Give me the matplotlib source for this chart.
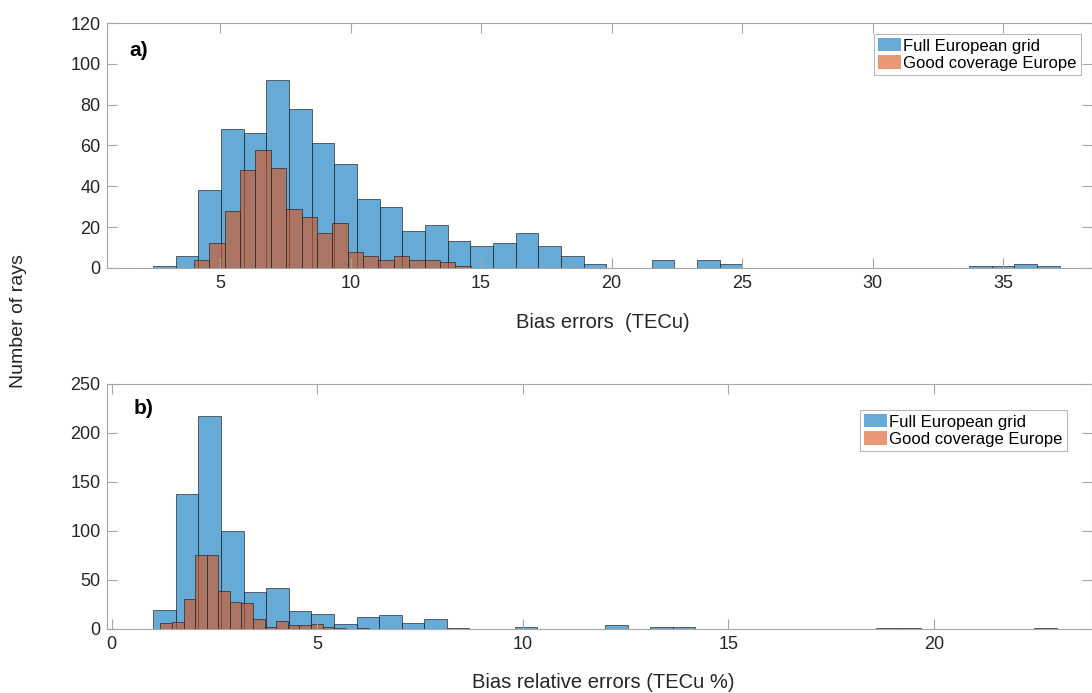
import matplotlib
matplotlib.use("Agg")
import matplotlib.pyplot as plt
import numpy as np

plt.rcParams['font.family'] = ['Liberation Sans', 'DejaVu Sans']

# panel a) bias errors (TECu)
a_full_start, a_full_width = 2.43, 0.8685
a_full_counts = [1, 6, 38, 68, 66, 92, 78, 61, 51, 34, 30, 18, 21, 13, 11, 12,
                 17, 11, 6, 2, 0, 0, 4, 0, 4, 2, 0, 0, 0, 0, 0, 0, 0, 0, 0, 0,
                 1, 1, 2, 1]
a_good_start, a_good_width = 3.99, 0.59
a_good_counts = [4, 12, 28, 48, 58, 49, 29, 25, 17, 22, 8, 6, 4, 6, 4, 4, 3, 1]

# panel b) bias relative errors (TECu %)
b_full_start, b_full_width = 1.01, 0.5495
b_full_counts = [19, 138, 217, 100, 38, 42, 18, 15, 5, 12, 14, 6, 10, 1, 0, 0,
                 2, 0, 0, 0, 4, 0, 2, 2, 0, 0, 0, 0, 0, 0, 0, 0, 1, 1, 0, 0,
                 0, 0, 0, 1]
b_good_start, b_good_width = 1.183, 0.282
b_good_counts = [6, 7, 31, 75, 75, 39, 28, 26, 10, 2, 8, 4, 4, 5, 2, 1, 0, 1]

labels = ['Full European grid', 'Good coverage Europe']
blue = (0.0, 0.447, 0.741, 0.6)
red = (0.85, 0.325, 0.098, 0.6)
edge = (0.15, 0.15, 0.15, 0.8)
spine_col = '#a6a6a6'
text_col = '#262626'


def draw_hist(ax, start, width, counts, color, label):
    counts = np.array(counts)
    left = start + width * np.arange(len(counts))
    nz = counts > 0
    ax.bar(left[nz], counts[nz], width=width, align='edge', color=color,
           edgecolor=edge, linewidth=0.6)
    # legend proxy without edge
    ax.bar([np.nan], [np.nan], color=color, label=label)


def style(ax):
    for s in ax.spines.values():
        s.set_color(spine_col)
        s.set_linewidth(0.8)
    ax.tick_params(direction='in', length=7, width=0.8, color=spine_col,
                   labelcolor=text_col, labelsize=13, top=True, right=True)
    ax.tick_params(axis='x', pad=5)
    ax.tick_params(axis='y', pad=5)


fig = plt.figure(figsize=(10.92, 6.93), dpi=100)
ax1 = fig.add_axes([0.0983, 0.6133, 0.9017, 0.3535])
ax2 = fig.add_axes([0.0983, 0.0924, 0.9017, 0.3535])

draw_hist(ax1, a_full_start, a_full_width, a_full_counts, blue, labels[0])
draw_hist(ax1, a_good_start, a_good_width, a_good_counts, red, labels[1])
ax1.set_xlim(0.68, 38.41)
ax1.set_ylim(0, 120)
ax1.set_xticks([5, 10, 15, 20, 25, 30, 35])
ax1.set_yticks(range(0, 121, 20))
style(ax1)
ax1.text(0.022, 0.886, 'a)', transform=ax1.transAxes, fontsize=15,
         fontweight='bold', va='center', ha='left')

draw_hist(ax2, b_full_start, b_full_width, b_full_counts, blue, labels[0])
draw_hist(ax2, b_good_start, b_good_width, b_good_counts, red, labels[1])
ax2.set_xlim(-0.107, 23.85)
ax2.set_ylim(0, 250)
ax2.set_xticks([0, 5, 10, 15, 20])
ax2.set_yticks(range(0, 251, 50))
style(ax2)
ax2.text(0.027, 0.898, 'b)', transform=ax2.transAxes, fontsize=15,
         fontweight='bold', va='center', ha='left')

for ax, anchor in ((ax1, (0.9888, 0.955)), (ax2, (0.9746, 0.894))):
    leg = ax.legend(loc='upper right', bbox_to_anchor=anchor, fontsize=12,
                    frameon=True, fancybox=False, borderaxespad=0,
                    borderpad=0.25, labelspacing=0.1, handlelength=1.35,
                    handleheight=0.85, handletextpad=0.15)
    leg.get_frame().set_edgecolor(spine_col)
    leg.get_frame().set_linewidth(0.8)

fig.text(603 / 1092, 1 - 323 / 693, 'Bias errors  (TECu)', fontsize=14.5,
         color=text_col, ha='center', va='center')
fig.text(603 / 1092, 1 - 683 / 693, 'Bias relative errors (TECu %)',
         fontsize=14.5, color=text_col, ha='center', va='center')
fig.text(19 / 1092, 1 - 321 / 693, 'Number of rays', fontsize=14,
         color=text_col, ha='center', va='center', rotation=90)

fig.savefig('out.png', dpi=100)
